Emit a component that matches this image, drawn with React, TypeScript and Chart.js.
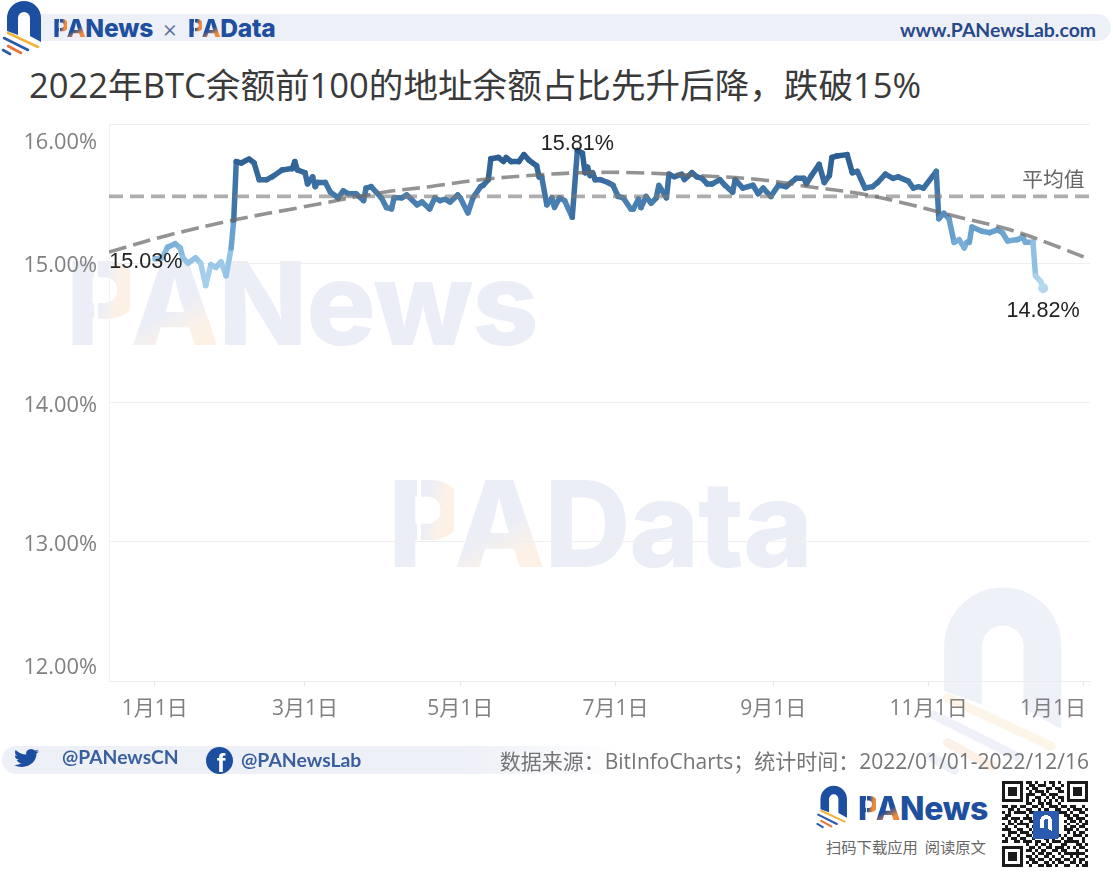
import React, { useEffect, useRef } from "react";
import { Chart, registerables } from "chart.js";

Chart.register(...registerables);

// Days counted from 2022-01-01
const seriesDays = [0,3,5,8,10,11,13,16,18,20,22,24,26,28,30,31,32,34,37,39,41,44,46,50,54,55,56,59,60,62,63,64,67,69,72,74,76,79,82,83,85,87,89,91,93,94,97,99,103,105,108,110,112,114,116,119,120,123,125,128,129,131,132,135,137,138,140,143,145,147,150,151,152,154,156,157,159,161,164,166,168,169,170,171,172,173,175,178,180,182,184,187,188,190,191,193,195,197,198,201,202,204,207,208,211,213,215,217,219,222,224,227,228,231,235,237,239,242,245,248,252,255,256,258,261,263,265,266,268,272,274,276,279,282,284,287,290,292,296,298,300,302,307,308,310,312,314,316,318,319,320,321,325,328,331,333,335,339,341,342,345,346,348,349];
const seriesValues = [15.03,15.04,15.115,15.14,15.11,15.04,15.0,15.04,15.0,14.84,14.99,14.97,15.01,14.91,15.11,15.31,15.73,15.72,15.75,15.72,15.6,15.6,15.62,15.67,15.68,15.73,15.67,15.65,15.57,15.62,15.55,15.58,15.58,15.51,15.47,15.52,15.5,15.5,15.45,15.54,15.55,15.51,15.47,15.4,15.39,15.47,15.47,15.49,15.42,15.44,15.39,15.47,15.45,15.46,15.44,15.49,15.47,15.36,15.47,15.55,15.56,15.6,15.75,15.76,15.73,15.76,15.73,15.73,15.78,15.74,15.7,15.62,15.62,15.42,15.47,15.4,15.47,15.45,15.33,15.81,15.79,15.65,15.69,15.63,15.65,15.6,15.6,15.58,15.56,15.48,15.47,15.39,15.39,15.46,15.4,15.48,15.43,15.47,15.56,15.47,15.64,15.62,15.64,15.6,15.65,15.62,15.61,15.57,15.57,15.6,15.56,15.51,15.6,15.54,15.56,15.5,15.54,15.48,15.56,15.55,15.61,15.61,15.57,15.63,15.71,15.58,15.63,15.76,15.77,15.78,15.65,15.66,15.54,15.55,15.58,15.64,15.61,15.62,15.59,15.54,15.55,15.54,15.66,15.32,15.36,15.32,15.15,15.17,15.11,15.15,15.15,15.26,15.23,15.22,15.24,15.22,15.16,15.17,15.19,15.15,15.15,14.91,14.87,14.82];

const trendDays = [-18,5,31,57,90,108,128,147,167,189,213,238,257,277,297,316,336,356,367];
const trendValues = [15.08,15.2,15.31,15.4,15.51,15.55,15.6,15.63,15.65,15.65,15.63,15.6,15.55,15.5,15.42,15.33,15.24,15.11,15.03];

const meanDays = [-18,367];
const meanValues = [15.48,15.48];

const yTicks = [12,13,14,15,16];
const xTickDays = [0,59,120,181,243,304,365];
const xTickLabels = ["1月1日","3月1日","5月1日","7月1日","9月1日","11月1日","1月1日"];

const valueLabels = [
  { day: 0, value: 15.03, text: "15.03%", dx: -9, dy: 3 },
  { day: 166, value: 15.81, text: "15.81%", dx: 0, dy: -6 },
  { day: 349, value: 14.82, text: "14.82%", dx: 0, dy: 23 },
];

const TITLE = "2022年BTC余额前100的地址余额占比先升后降，跌破15%";
const SOURCE = "数据来源：BitInfoCharts；统计时间：2022/01/01-2022/12/16";

const LATIN = '"Open Sans", "Noto Sans CJK SC", sans-serif';
const BRAND = 'Inter, "Noto Sans", sans-serif';

const qrRows = [
  "11111110110100101101001111111",
  "10000010011011100100101000001",
  "10111010101100011011001011101",
  "10111010010111010001101011101",
  "10111010111001101110001011101",
  "10000010100110010101101000001",
  "11111110101010101010101111111",
  "00000000110011011001000000000",
  "11011011001101001110110110010",
  "00110100110010110011001011101",
  "10101111011100011101110100110",
  "01100000100011000000011011001",
  "11011101110100000000001101110",
  "00101010011000000000010110101",
  "10110111100100000000001001011",
  "01001000101000000000010110110",
  "11100110010100000000011101001",
  "00111011101010000000001010110",
  "10100100110111001011010011101",
  "01011011001000110100101100010",
  "11001101110110010111011111010",
  "00000000100101101000110001101",
  "11111110011010011011101010110",
  "10000010110101100110110001001",
  "10111010001011011001011111110",
  "10111010110100110100100101001",
  "10111010011011001011011010110",
  "10000010101100110101100110101",
  "11111110010011011010011001011",
];

function mixColor(v: number): string {
  const stops: [number, number[]][] = [
    [14.82, [181, 216, 238]],
    [15.0, [150, 198, 230]],
    [15.2, [108, 164, 208]],
    [15.45, [70, 124, 174]],
    [15.8, [40, 90, 142]],
  ];
  if (v <= stops[0][0]) return `rgb(${stops[0][1].join(",")})`;
  for (let i = 1; i < stops.length; i++) {
    if (v <= stops[i][0]) {
      const t = (v - stops[i - 1][0]) / (stops[i][0] - stops[i - 1][0]);
      const c = stops[i - 1][1].map((a, k) => Math.round(a + (stops[i][1][k] - a) * t));
      return `rgb(${c.join(",")})`;
    }
  }
  return `rgb(${stops[stops.length - 1][1].join(",")})`;
}

const labelPlugin = {
  id: "labelPlugin",
  beforeDraw(chart: any) {
    const y = chart.scales.y;
    const x = chart.scales.x;
    y.getLabelItems().forEach((it: any, i: number) => {
      const v = yTicks[i];
      const shift = v === 16 ? 19 : v === 12 ? -13 : 3;
      it.options.translation[1] = y.getPixelForValue(v) + shift;
    });
    const items = x.getLabelItems();
    const last = items[items.length - 1];
    if (last) last.options.translation[0] = x.getPixelForValue(365) - 31;
  },
  afterDatasetsDraw(chart: any) {
    const { ctx, scales } = chart;
    ctx.save();
    ctx.font = `21.6px "Liberation Sans", Arial, sans-serif`;
    ctx.fillStyle = "#222222";
    ctx.textAlign = "center";
    ctx.textBaseline = "middle";
    valueLabels.forEach((l) => {
      ctx.fillText(l.text, scales.x.getPixelForValue(l.day) + l.dx, scales.y.getPixelForValue(l.value) + l.dy);
    });
    ctx.font = `20.8px ${LATIN}`;
    ctx.fillStyle = "#666666";
    ctx.fillText("平均值", scales.x.getPixelForValue(353), scales.y.getPixelForValue(meanValues[0]) - 15);
    ctx.restore();
  },
};

function ChartCanvas() {
  const ref = useRef<HTMLCanvasElement | null>(null);
  useEffect(() => {
    const chart = new Chart(ref.current as HTMLCanvasElement, {
      type: "line",
      data: {
        datasets: [
          {
            label: "趋势",
            data: trendDays.map((d, i) => ({ x: d, y: trendValues[i] })),
            borderColor: "rgba(105,105,105,0.72)",
            borderWidth: 3.6,
            borderDash: [18, 7],
            pointRadius: 0,
            tension: 0.4,
            order: 1,
          },
          {
            label: "平均值",
            data: meanDays.map((d, i) => ({ x: d, y: meanValues[i] })),
            borderColor: "rgba(125,125,125,0.62)",
            borderWidth: 3.6,
            borderDash: [14, 7],
            pointRadius: 0,
            order: 2,
          },
          {
            label: "前100地址余额占比",
            data: seriesDays.map((d, i) => ({ x: d, y: seriesValues[i] })),
            borderWidth: 5.5,
            borderColor: "#4a7fb0",
            borderJoinStyle: "round",
            borderCapStyle: "round",
            tension: 0,
            segment: {
              borderColor: (c: any) => mixColor((c.p0.parsed.y + c.p1.parsed.y) / 2),
            },
            pointRadius: (c: any) => (c.dataIndex === seriesDays.length - 1 ? 5 : 0),
            pointBackgroundColor: mixColor(14.82),
            pointBorderWidth: 0,
            order: 3,
          },
        ],
      },
      options: {
        responsive: false,
        animation: false,
        layout: { padding: { left: 0, right: 23, top: 124, bottom: 137 } },
        plugins: { legend: { display: false }, tooltip: { enabled: false }, title: { display: false } },
        scales: {
          x: {
            type: "linear",
            min: -18,
            max: 367.4,
            afterBuildTicks: (s: any) => {
              s.ticks = xTickDays.map((value) => ({ value }));
            },
            afterFit: (s: any) => {
              s.height = 60;
              s.paddingLeft = 0;
              s.paddingRight = 0;
            },
            ticks: {
              autoSkip: false,
              maxRotation: 0,
              padding: 10,
              color: "#808080",
              font: { family: LATIN, size: 21 },
              callback: (v: any) => xTickLabels[xTickDays.indexOf(v)] ?? "",
            },
            grid: { drawOnChartArea: false, drawTicks: true, tickLength: 5, color: "#e8e8e8" },
            border: { display: true, color: "#ececec" },
          },
          y: {
            type: "linear",
            min: 12,
            max: 16,
            afterBuildTicks: (s: any) => {
              s.ticks = yTicks.map((value) => ({ value }));
            },
            afterFit: (s: any) => {
              s.width = 109;
              s.paddingTop = 0;
              s.paddingBottom = 0;
            },
            ticks: {
              padding: 12,
              color: "#808080",
              font: { family: LATIN, size: 21.8 },
              callback: (v: any) => Number(v).toFixed(2) + "%",
            },
            grid: { color: "#efefef", drawTicks: false },
            border: { display: true, color: "#f2f2f2" },
          },
        },
      },
      plugins: [labelPlugin],
    } as any);
    return () => chart.destroy();
  }, []);
  return (
    <canvas
      ref={ref}
      width={1113}
      height={878}
      style={{ position: "absolute", left: 0, top: 0, width: 1113, height: 878, zIndex: 2 }}
    />
  );
}

function LogoMark({ x, y, scale, mono }: { x: number; y: number; scale: number; mono?: boolean }) {
  const blue = mono ? "#eef1f8" : "#1d4fa0";
  const yellow = mono ? "#fdf5e8" : "#f0b43c";
  const orange = mono ? "#fdf0e6" : "#e9713a";
  const blue2 = mono ? "#eef1f8" : "#2a5aa8";
  return (
    <svg
      style={{ position: "absolute", left: x, top: y, overflow: "visible" }}
      width={44 * scale}
      height={56 * scale}
      viewBox="0 0 44 56"
    >
      <path d="M7 31 V18 A17 17 0 0 1 41 18 V42 L30 36 V18 A6 6 0 0 0 18 18 V35 Z" fill={blue} />
      <path d="M8 33 L38 47" stroke={yellow} strokeWidth={2.6} strokeLinecap="round" />
      <path d="M4 38 L28 50" stroke={blue2} strokeWidth={2.6} strokeLinecap="round" />
      <path d="M8 46 L21 53" stroke={orange} strokeWidth={2.6} strokeLinecap="round" />
      <path d="M3 50 L10 54" stroke={blue2} strokeWidth={2.6} strokeLinecap="round" />
    </svg>
  );
}

function Wordmark({
  x,
  y,
  size,
  word,
  main,
  accent,
  width,
  gap = "#ffffff",
}: {
  x: number;
  y: number;
  size: number;
  word: string;
  main: string;
  accent: string;
  width: number;
  gap?: string;
}) {
  const clip = (dir: string): React.CSSProperties => ({
    backgroundImage: `linear-gradient(${dir}, ${main} 52%, ${accent} 72%)`,
    WebkitBackgroundClip: "text",
    backgroundClip: "text",
    color: "transparent",
  });
  return (
    <div
      style={{
        position: "absolute",
        left: x,
        top: y,
        width,
        fontFamily: BRAND,
        fontWeight: 800,
        fontSize: size,
        lineHeight: 1,
        whiteSpace: "nowrap",
        color: main,
        letterSpacing: "-0.01em",
      }}
    >
      <span style={clip("100deg")}>P</span>
      <span style={clip("150deg")}>A</span>
      {word}
      <span
        style={{
          position: "absolute",
          left: size * 0.245,
          top: size * 0.08,
          width: size * 0.035,
          height: size * 0.84,
          background: gap,
        }}
      />
    </div>
  );
}

function Qr() {
  const cell = 86 / 29;
  return (
    <svg style={{ position: "absolute", left: 1002, top: 781 }} width={86} height={86} viewBox="0 0 86 86" shapeRendering="crispEdges">
      {qrRows.map((row, r) =>
        row.split("").map((c, k) =>
          c === "1" ? <rect key={`${r}-${k}`} x={k * cell} y={r * cell} width={cell} height={cell} fill="#1a1a1a" /> : null,
        ),
      )}
      <rect x={31} y={30} width={26} height={28} rx={2} fill="#2a5bb0" />
      <path d="M38 47 V40 A6 6 0 0 1 50 40 V50 L46 48 V40 A2 2 0 0 0 42 40 V47 Z" fill="#fff" />
    </svg>
  );
}

export default function App() {
  const abs = (left: number, top: number, extra: React.CSSProperties): React.CSSProperties => ({
    position: "absolute",
    left,
    top,
    whiteSpace: "nowrap",
    ...extra,
  });
  return (
    <div style={{ position: "fixed", left: 0, top: 0, width: 1113, height: 878, background: "#ffffff", overflow: "hidden" }}>
      {/* watermarks */}
      <Wordmark x={66} y={245} size={116} word="News" main="#ebeef7" accent="#fdf1e6" width={480} />
      <Wordmark x={388} y={465} size={119} word="Data" main="#ebeef7" accent="#fdf1e6" width={440} />
      <LogoMark x={920} y={584} scale={3.45} mono />

      {/* header */}
      <div style={abs(30, 14, { width: 1081, height: 27, background: "#eef0f7", borderRadius: 14 })} />
      <LogoMark x={0} y={0} scale={1} />
      <Wordmark x={53} y={16} size={24.6} word="News" main="#1f4f9f" accent="#ef8a3a" width={105} gap="#eef0f7" />
      <div style={abs(162, 15, { fontFamily: BRAND, fontSize: 24, lineHeight: "27px", fontWeight: 300, color: "#5a6f9c" })}>×</div>
      <Wordmark x={188} y={16} size={24.6} word="Data" main="#1f4f9f" accent="#ef8a3a" width={95} gap="#eef0f7" />
      <div style={abs(900, 18, { fontFamily: '"Lato", sans-serif', fontWeight: 700, fontSize: 19.4, lineHeight: "24px", color: "#27488a" })}>
        www.PANewsLab.com
      </div>

      {/* title */}
      <div style={abs(29, 60, { fontFamily: LATIN, fontSize: 34.6, lineHeight: "50px", color: "#3a3a3a" })}>{TITLE}</div>

      <ChartCanvas />

      {/* footer */}
      <div
        style={abs(2, 746, {
          width: 620,
          height: 28,
          borderRadius: 14,
          background: "linear-gradient(90deg, #eef0f7 0%, #eef0f7 75%, rgba(238,240,247,0) 100%)",
          zIndex: 1,
        })}
      />
      <svg style={{ position: "absolute", left: 14, top: 747, zIndex: 3 }} width={25} height={22} viewBox="0 0 24 24" preserveAspectRatio="none">
        <path
          fill="#1d4fa0"
          d="M23.953 4.57a10 10 0 01-2.825.775 4.958 4.958 0 002.163-2.723c-.951.555-2.005.959-3.127 1.184a4.92 4.92 0 00-8.384 4.482C7.69 8.095 4.067 6.13 1.64 3.162a4.822 4.822 0 00-.666 2.475c0 1.71.87 3.213 2.188 4.096a4.904 4.904 0 01-2.228-.616v.06a4.923 4.923 0 003.946 4.827 4.996 4.996 0 01-2.212.085 4.936 4.936 0 004.604 3.417 9.867 9.867 0 01-6.102 2.105c-.39 0-.779-.023-1.17-.067a13.995 13.995 0 007.557 2.209c9.053 0 13.998-7.496 13.998-13.985 0-.21 0-.42-.015-.63A9.935 9.935 0 0024 4.59z"
        />
      </svg>
      <div style={abs(62, 745, { fontFamily: '"Lato", sans-serif', fontWeight: 700, fontSize: 19.3, lineHeight: "24px", color: "#3a5f9e", zIndex: 3 })}>@PANewsCN</div>
      <div
        style={abs(206, 747, {
          width: 27,
          height: 27,
          borderRadius: 14,
          background: "#1d4fa0",
          overflow: "hidden",
          zIndex: 3,
          color: "#ffffff",
          fontFamily: '"Liberation Sans", sans-serif',
          fontWeight: 700,
          fontSize: 26,
          lineHeight: "32px",
          textAlign: "center",
          paddingLeft: 3,
          boxSizing: "border-box",
        })}
      >
        f
      </div>
      <div style={abs(241, 748, { fontFamily: '"Lato", sans-serif', fontWeight: 700, fontSize: 19.4, lineHeight: "24px", color: "#3a5f9e", zIndex: 3 })}>@PANewsLab</div>
      <div style={{ position: "absolute", right: 24, top: 746, whiteSpace: "nowrap", fontFamily: LATIN, fontSize: 21, lineHeight: "30px", color: "#757575", zIndex: 3 }}>{SOURCE}</div>

      {/* bottom right brand */}
      <LogoMark x={815} y={785} scale={0.78} />
      <Wordmark x={858} y={793} size={32} word="News" main="#1f4f9f" accent="#ef8a3a" width={135} />
      <div style={abs(826, 835, { fontFamily: '"Noto Sans CJK SC", sans-serif', fontSize: 15.3, lineHeight: "22px", color: "#666666" })}>扫码下载应用&nbsp;&nbsp;阅读原文</div>
      <Qr />
    </div>
  );
}
